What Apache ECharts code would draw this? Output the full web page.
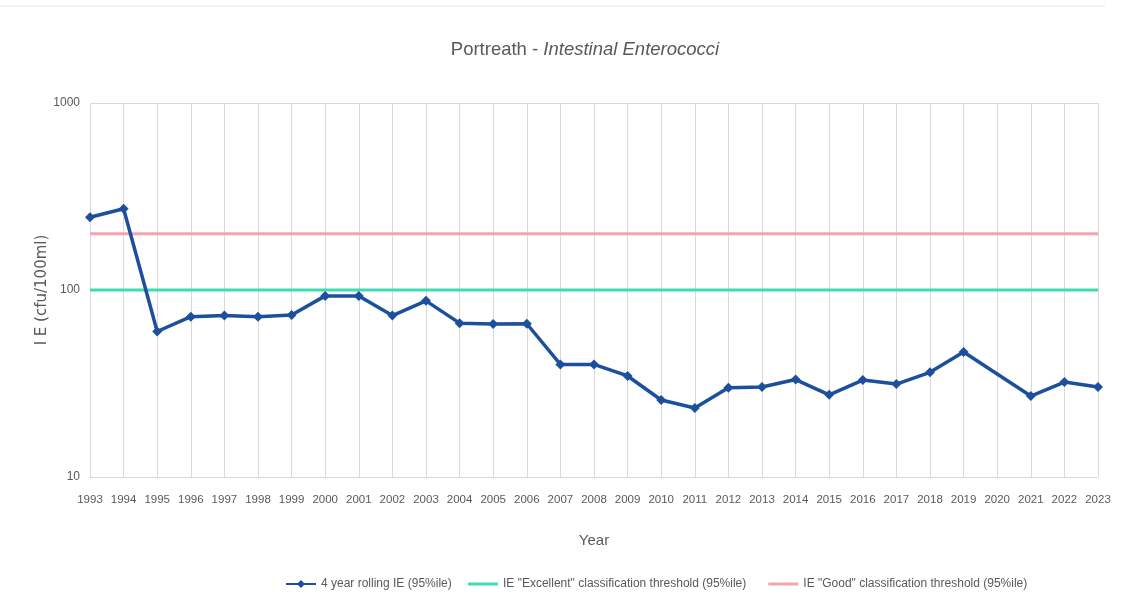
<!DOCTYPE html>
<html>
<head>
<meta charset="utf-8">
<script src="https://cdn.jsdelivr.net/npm/echarts@6/dist/echarts.min.js"></script>
<style>html,body{margin:0;padding:0;background:#fff;}#c{width:1145px;height:615px;}</style>
</head>
<body>
<div id="c"></div>
<script>
const years = ['1993','1994','1995','1996','1997','1998','1999','2000','2001','2002','2003','2004','2005','2006','2007','2008','2009','2010','2011','2012','2013','2014','2015','2016','2017','2018','2019','2020','2021','2022','2023'];
const rollingIE = [245,272,60,72,73,72,73.5,93,93,73,87.5,66.5,65.8,66,40,40,34.7,25.8,23.4,30,30.3,33.2,27.5,33,31.4,36.3,46.6,null,27.1,32.2,30.3];
const excellentThreshold = 100;
const goodThreshold = 200;
const yTicks = [10, 100, 1000];

const chart = echarts.init(document.getElementById('c'));
const txt = '#595959';
const font = 'Liberation Sans';
const S1 = '4 year rolling IE (95%ile)';
const S2 = 'IE "Excellent" classification threshold (95%ile)';
const S3 = 'IE "Good" classification threshold (95%ile)';
chart.setOption({
  backgroundColor: '#fff',
  animation: false,
  title: {
    text: '{a|Portreath - }{b|Intestinal Enterococci}',
    left: 580, top: 35, textAlign: 'center',
    textStyle: {
      rich: {
        a: {fontFamily: font, fontSize: 18.5, color: txt, fontWeight: 'normal'},
        b: {fontFamily: font, fontSize: 18.5, color: txt, fontStyle: 'italic', fontWeight: 'normal'}
      }
    }
  },
  graphic: [{type: 'line', shape: {x1: 0, y1: 6, x2: 1105, y2: 6}, style: {stroke: '#e6e6e6', lineWidth: 1}}],
  grid: {left: 90, right: 47, top: 103, bottom: 138, containLabel: false},
  legend: [
    {
      top: 573, left: 280,
      itemWidth: 30, itemHeight: 10, itemGap: 22,
      data: [S1],
      textStyle: {fontFamily: font, fontSize: 12, color: txt}
    },
    {
      top: 573, left: 463,
      itemWidth: 30, itemHeight: 3, itemGap: 22,
      icon: 'rect',
      data: [S2, S3],
      textStyle: {fontFamily: font, fontSize: 12, color: txt}
    }
  ],
  xAxis: {
    type: 'category', data: years, boundaryGap: false,
    name: 'Year', nameLocation: 'middle', nameGap: 56,
    nameTextStyle: {fontFamily: font, fontSize: 15, color: txt},
    axisLine: {show: true, lineStyle: {color: '#d9d9d9'}},
    axisTick: {show: false},
    axisLabel: {interval: 0, fontFamily: font, fontSize: 11.5, color: txt, margin: 17},
    splitLine: {show: true, interval: 0, lineStyle: {color: '#d9d9d9', width: 1}}
  },
  yAxis: {
    type: 'log', logBase: 10, min: yTicks[0], max: yTicks[yTicks.length - 1],
    name: 'I E (cfu/100ml)', nameLocation: 'middle', nameGap: 40, nameRotate: 90,
    nameMoveOverlap: false,
    nameTextStyle: {fontFamily: 'DejaVu Sans', fontSize: 15, color: txt},
    axisLine: {show: false}, axisTick: {show: false},
    axisLabel: {fontFamily: font, fontSize: 12, color: txt, margin: 10, formatter: v => String(v)},
    splitLine: {show: true, lineStyle: {color: '#d9d9d9', width: 1}}
  },
  series: [
    {
      name: S2, type: 'line', z: 2,
      data: [[years[0], excellentThreshold], [years[years.length - 1], excellentThreshold]],
      symbol: 'none', lineStyle: {color: '#3fdcb2', width: 3}, itemStyle: {color: '#3fdcb2'}
    },
    {
      name: S3, type: 'line', z: 2,
      data: [[years[0], goodThreshold], [years[years.length - 1], goodThreshold]],
      symbol: 'none', lineStyle: {color: '#f4a4ac', width: 3}, itemStyle: {color: '#f4a4ac'}
    },
    {
      name: S1, type: 'line', z: 5,
      data: rollingIE, connectNulls: true,
      symbol: 'diamond', symbolSize: 10,
      lineStyle: {color: '#1c4f9c', width: 3.5}, itemStyle: {color: '#1c4f9c'}
    }
  ]
});
</script>
</body>
</html>
